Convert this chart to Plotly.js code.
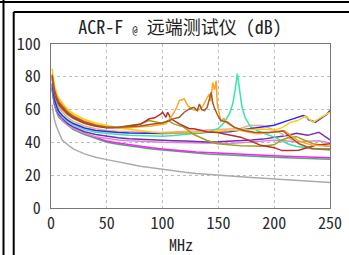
<!DOCTYPE html>
<html><head><meta charset="utf-8">
<script src="https://cdn.plot.ly/plotly-3.0.1.min.js"></script>
<style>html,body{margin:0;padding:0;background:#fff;}#chart{width:349px;height:255px;}</style>
</head><body><div id="chart"></div>
<script>
// Shared frequency grid (MHz) for the smooth curves
const freq = [1,2,3,5,7,10,15,20,30,40,50,60,70,80,90,100,110,120,130,140,150,160,170,180,190,200,210,220,230,240,250];

const grayY    = [63,57.5,54,49.5,46,41.5,38.5,36,33,31,29.5,28,26.8,25.5,24.5,23.5,22.5,21.8,21.1,20.5,20,19.5,19,18.6,18.2,17.8,17.3,16.9,16.4,16,15.5];
const magentaY = [73,67,63.5,59,56,54,51,48.5,45.5,43,40.8,39.6,38.5,37.5,36.7,36,35.3,34.7,34.2,33.8,33.4,33,32.7,32.4,32.1,31.8,31.5,31.3,31,30.8,30.6];
const greenY   = [72,66.5,63,58.5,55.5,53.3,50.3,47.8,44.8,42.3,40.1,38.9,37.8,36.8,36,35.3,34.6,34,33.5,33,32.6,32.2,31.9,31.6,31.3,31,30.7,30.5,30.2,30,29.8];
const purpleY  = [74,68,64.5,60,57,55,51.5,49.5,46.5,44.8,43.6,42.8,42.2,41.8,41.5,41.2,41,40.8,40.5,40.3,40.4,40.6,41,41.4,42,42.8,44,45.5,44.3,46.2,41.5];
const orchidY  = [73,67,63.5,59,56,53.5,50.5,48.5,45.5,43.5,42.3,41.5,41,40.6,40.3,40.1,40,39.8,39.6,39.4,39.3,39.4,39.8,40.4,41,41.3,41,40.3,40.7,41,39.6];

const blueX = [1,2,3,5,7,10,15,20,30,40,50,60,70,80,90,100,110,120,130,140,150,160,170,180,190,200,212,220,226,229,231,237,242,247,250];
const blueY = [76,70,66.5,62,59,56.5,53.5,51.5,48.8,47.2,46.5,46,45.7,45.5,45.5,45.5,45.6,45.8,46,46.2,46.5,46.5,47.5,48.5,49.3,50.5,53.3,55,56.4,55.5,53.8,52.3,54.5,57,59.5];

const aquaX = [1,2,3,5,7,10,15,20,30,40,50,60,70,80,90,100,110,120,130,140,150,155,160,163,165,167,169,171,174,179,188,200,212,220,230,240,250];
const aquaY = [75,69,65.5,61,58,55.5,52.5,50.5,47.8,46.2,45.3,44.8,44.4,44.1,43.9,43.8,44.2,44.8,45.5,46.2,48.5,52,57.5,64,72,82,72,62,55,49.3,46.2,43.2,39.2,37.5,36.8,36,35.4];

const salmonX = [1,2,3,5,7,10,15,20,30,40,50,60,70,80,90,100,110,120,130,140,150,160,170,178,190,201,208,216,224,231,240,250];
const salmonY = [78,72,68.5,64,61,58.5,55,52.8,50,48.3,47.3,46.8,46.4,46.1,46,46,46.2,46.6,47,47.5,47.8,48,48.5,50.5,50.3,47.3,44.5,41.2,38.5,36.2,35.6,35.2];

const yellowX = [1,2,3,5,7,10,15,20,30,40,50,60,70,80,90,100,110,120,130,140,150,160,170,180,190,200,207,215,221,228,235,242,246,250];
const yellowY = [85,78.5,75,70,67,64,60,57.5,54,51.8,50.3,49,48,47,46.3,45.8,45.7,45.8,46,46.5,47,47.3,47.5,48,48.2,47.5,49,52.3,53.3,56,52.3,55.3,57,58.4];

const oliveX = [1,2,3,5,7,10,15,20,30,40,50,60,70,80,88,96,100,105,110,119,128,140,149,170,188,200,206,213,220,228,235,250];
const oliveY = [79,73.5,70,65.5,62.5,60,56.8,54.5,51.5,49.8,49,49.2,50,51.2,53.3,52.3,51.5,53.3,51.3,49.3,44.8,41.2,39.2,38,37.6,38.5,41.2,43,43.5,41,39.2,37.5];

const redX = [1,2,3,5,7,10,15,20,30,40,50,60,70,80,88,93,98.6,100,103,104.5,107.5,115,124,128,140,149,160,170,180,188,200,207,215,222,237,250];
const redY = [80,74.5,71,66.5,63.5,61,57.5,55,51.8,50,49,49,49.8,51,54.4,55,57.4,58.4,55.3,58.4,54.4,51.3,48.3,48.3,46.5,46,44.5,43.2,40.5,38.2,36.8,35,35,35.2,38.2,39.2];

const orangeX = [1,2,3,5,7,10,15,20,30,40,50,60,70,80,90,100,103,107.5,112,115,119.4,122.6,127,131.5,136,139,141.7,143,145,146.5,148,149,152,155,158,164,170,185,200,209,215,221,228,235,250];
const orangeY = [82,76.5,73,68.5,65.5,63,59,56.5,53,50.8,49.5,49,49,49.5,50,51,51.3,55.3,60.4,65.5,66.5,62.4,60,59.4,62,66,69.5,65,76.5,72,77.6,63.4,53.3,54.5,51.5,49.3,47.3,45.3,46.2,47.3,44,41.2,39.5,38.2,37.6];

const brownX = [1,2,3,5,7,10,15,20,30,40,50,60,70,80,90,100,105,110,115,119.4,124,128,131,133,135,137.5,140,142,143.5,145,146.2,149,152.2,158.2,164,173,182,195,208,215,222,234,250];
const brownY = [81,75.5,72,67.5,64.5,62,58.3,55.8,52.5,50.5,49.3,49.2,49.5,50,51,52,53,54.5,55.3,58.4,60.4,61.4,59.5,63.4,60,59.4,61.5,66,70.5,64,61.4,57,53.3,52.3,49.3,47.3,46.2,46,47,43,39.2,36.2,36];

const xTicks = [0,50,100,150,200,250];
const yTicks = [0,20,40,60,80,100];

function tr(x, y, color, w) {
  return {x: x, y: y, type: 'scatter', mode: 'lines', line: {color: color, width: w || 1.5}, hoverinfo: 'skip', showlegend: false};
}

const data = [
  tr(freq, grayY, '#ababab'),
  tr(freq, greenY, '#4cb068'),
  tr(freq, magentaY, '#ff1aff'),
  tr(freq, orchidY, '#d987d9'),
  tr(freq, purpleY, '#7a2ab0'),
  tr(salmonX, salmonY, '#f5a88a'),
  tr(aquaX, aquaY, '#33e8a8'),
  tr(blueX, blueY, '#2a2aff'),
  tr(yellowX, yellowY, '#ffcc11'),
  tr(oliveX, oliveY, '#a0a020'),
  tr(redX, redY, '#b83028'),
  tr(orangeX, orangeY, '#ffa520'),
  tr(brownX, brownY, '#a0582d')
];

function px(x){ return (x - 51) / 279; }
function py(y){ return (208 - y) / 164; }
const frame = {color: '#000', width: 2};
const shapes = [
  {type:'line', xref:'paper', yref:'paper', x0:px(3.5), x1:px(3.5), y0:py(0), y1:py(260), line:frame},
  {type:'line', xref:'paper', yref:'paper', x0:px(0), x1:px(352), y0:py(2), y1:py(2), line:frame},
  {type:'line', xref:'paper', yref:'paper', x0:px(13.7), x1:px(352), y0:py(12), y1:py(12), line:frame},
  {type:'line', xref:'paper', yref:'paper', x0:px(13.7), x1:px(13.7), y0:py(12), y1:py(260), line:frame}
];

const fontFam = 'Noto Sans Mono CJK SC, DejaVu Sans Mono, Noto Sans CJK SC, monospace';
const layout = {
  width: 349, height: 255,
  margin: {l: 51, r: 19, t: 44, b: 47},
  paper_bgcolor: '#fff', plot_bgcolor: '#fff',
  font: {family: fontFam, color: '#2a2a2a', size: 16},
  title: {text: "ACR-F <span style='font-size:11px'>@</span> 远端测试仪 (dB)", font: {family: fontFam, size: 18, color: '#222'},
          x: 0.516, xref: 'container', xanchor: 'center', y: 0.89, yref: 'container', yanchor: 'middle'},
  xaxis: {range: [0, 250], tickvals: xTicks, ticktext: xTicks.map(String), showgrid: true, gridcolor: '#bdbdbd', griddash: 'dot',
          zeroline: false, showline: true, mirror: true, linecolor: '#777', linewidth: 1,
          ticks: 'outside', ticklen: 1, tickcolor: 'rgba(0,0,0,0)', tickfont: {size: 16}},
  yaxis: {range: [0, 100], tickvals: yTicks, ticktext: yTicks.map(String), showgrid: true, gridcolor: '#bdbdbd', griddash: 'dot',
          zeroline: false, showline: true, mirror: true, linecolor: '#777', linewidth: 1,
          ticks: 'outside', ticklen: 6, tickcolor: 'rgba(0,0,0,0)', tickfont: {size: 16}},
  annotations: [{text: 'MHz', xref: 'paper', yref: 'paper', x: 0.466, y: py(243.5), xanchor: 'center', yanchor: 'middle',
                 showarrow: false, font: {family: fontFam, size: 16, color: '#222'}}],
  shapes: shapes
};
Plotly.newPlot('chart', data, layout, {staticPlot: true, displayModeBar: false});
</script></body></html>
